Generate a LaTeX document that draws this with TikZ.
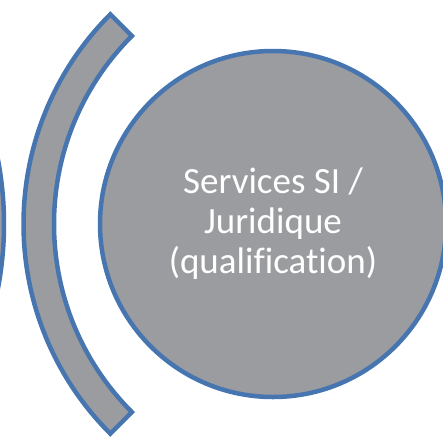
\documentclass[tikz,border=0pt]{standalone}
\usepackage{fontspec}
\newfontfamily\labelfont[Ligatures=NoCommon]{Carlito}
\usetikzlibrary{positioning}
\definecolor{stagegray}{RGB}{155,156,159}
\definecolor{stageblue}{RGB}{71,117,176}

\begin{document}
\begin{tikzpicture}[
    x=1pt, y=-1pt,
    line width=4.5pt,
    %
    stage/.style={draw=stageblue, circle, fill=stagegray, inner sep=0pt},
    band/.style={draw=stageblue, fill=stagegray},
    label/.style={text=white, align=center, font=\labelfont\fontsize{37}{40}\selectfont}
    ]
    \useasboundingbox (0,0) rectangle (443,439);
    \clip (0,0) rectangle (443,439);

    \node[stage, minimum size=682pt] (prev) at (-337,224) {};
    \node[stage, label, minimum size=346pt] (juri) at (273,224)
        {Services SI /\\ Juridique\\ (qualification)};
    %
    \coordinate (bc) at (320,224);
    \draw[band] ([shift={(135:296.5)}]bc) arc[start angle=135, end angle=225, radius=296.5]
        -- ([shift={(225:266)}]bc) arc[start angle=225, end angle=135, radius=266] -- cycle;

\end{tikzpicture}
\end{document}
